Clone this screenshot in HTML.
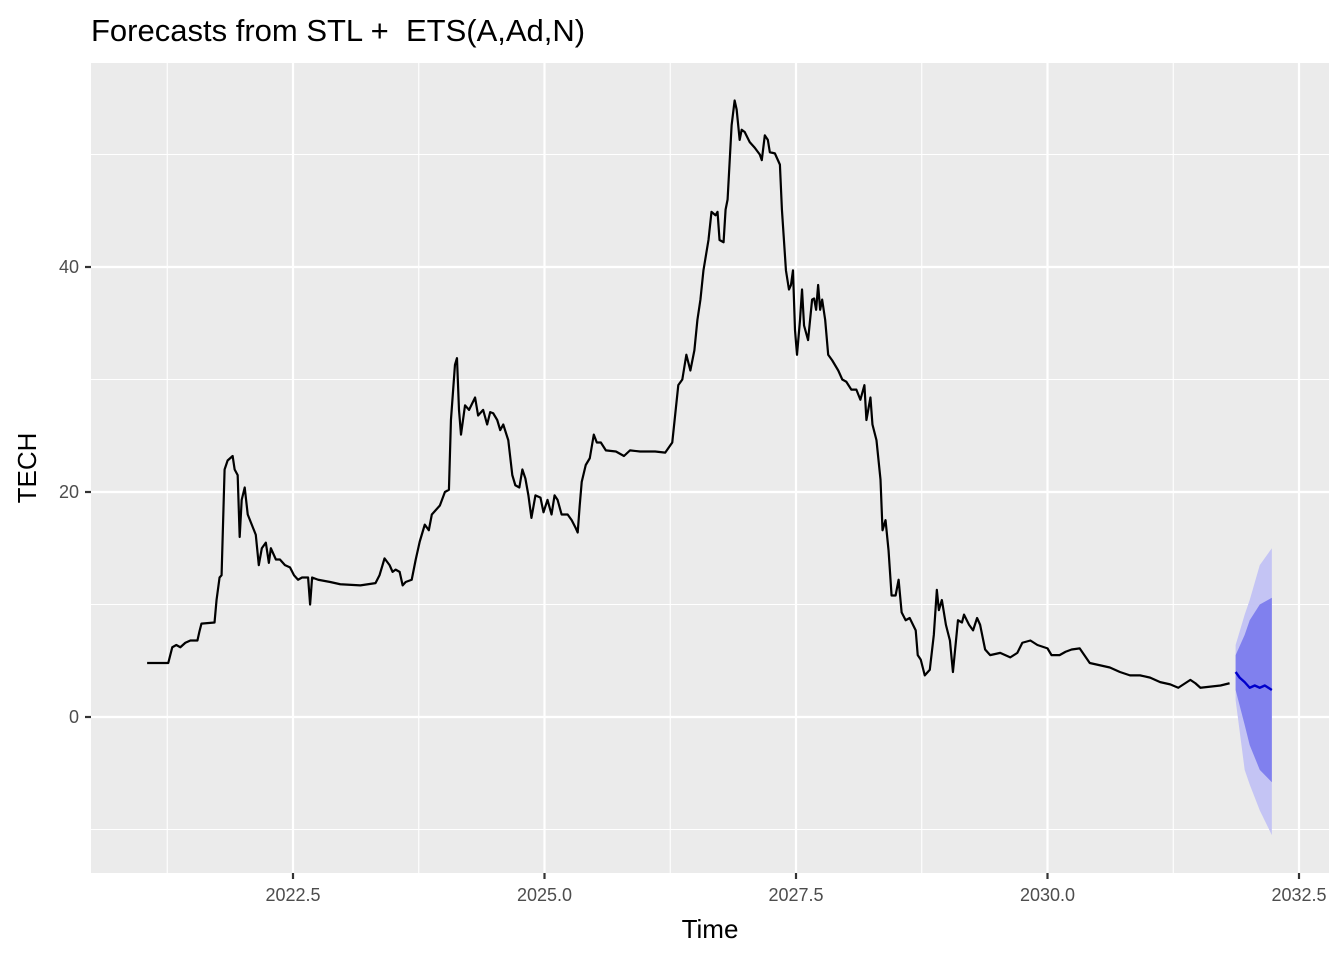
<!DOCTYPE html>
<html><head><meta charset="utf-8"><style>
body{margin:0;background:#fff;}
svg{display:block;font-family:"Liberation Sans",sans-serif;}
</style></head><body>
<svg id="chart" width="1344" height="960" viewBox="0 0 1344 960" xmlns="http://www.w3.org/2000/svg">
<text x="91" y="41" font-size="31" fill="#000">Forecasts from STL +&#160; ETS(A,Ad,N)</text>
<rect x="91" y="63" width="1238" height="810" fill="#ebebeb"/>
<g id="grid"></g>
<g id="bands"></g>
<g id="lines"></g>
<g id="axes"></g>
<text x="710" y="938" font-size="26" text-anchor="middle" fill="#000">Time</text>
<text transform="translate(36,468) rotate(-90)" font-size="26" text-anchor="middle" fill="#000">TECH</text>
</svg>
<script>
const times=[1.05,1.26,1.28,1.30,1.34,1.38,1.43,1.48,1.55,1.57,1.59,1.72,1.74,1.77,1.79,1.82,1.85,1.90,1.92,1.95,1.97,1.99,2.02,2.05,2.09,2.13,2.16,2.19,2.23,2.26,2.28,2.33,2.37,2.42,2.47,2.51,2.55,2.59,2.65,2.67,2.69,2.75,2.87,2.97,3.17,3.32,3.36,3.41,3.46,3.49,3.52,3.56,3.59,3.62,3.68,3.72,3.76,3.81,3.85,3.88,3.92,3.96,4.01,4.05,4.07,4.11,4.13,4.15,4.17,4.21,4.25,4.31,4.34,4.39,4.43,4.46,4.49,4.53,4.56,4.59,4.64,4.68,4.71,4.75,4.78,4.81,4.84,4.87,4.91,4.96,4.99,5.03,5.07,5.10,5.13,5.17,5.23,5.27,5.31,5.33,5.35,5.37,5.41,5.45,5.49,5.52,5.56,5.61,5.71,5.79,5.85,5.95,6.10,6.20,6.27,6.33,6.37,6.41,6.45,6.49,6.52,6.55,6.58,6.63,6.66,6.70,6.72,6.74,6.78,6.80,6.82,6.86,6.89,6.91,6.94,6.96,6.99,7.04,7.09,7.14,7.16,7.19,7.22,7.24,7.29,7.34,7.36,7.40,7.43,7.45,7.47,7.49,7.51,7.54,7.56,7.58,7.62,7.66,7.68,7.70,7.72,7.74,7.76,7.79,7.82,7.86,7.92,7.96,8.00,8.05,8.10,8.14,8.18,8.20,8.24,8.26,8.30,8.34,8.36,8.39,8.42,8.45,8.49,8.52,8.55,8.59,8.63,8.69,8.71,8.74,8.78,8.83,8.87,8.90,8.92,8.95,8.99,9.03,9.06,9.11,9.15,9.17,9.22,9.26,9.30,9.33,9.38,9.43,9.53,9.63,9.70,9.75,9.83,9.90,10.00,10.04,10.12,10.18,10.24,10.32,10.42,10.52,10.62,10.72,10.82,10.92,11.02,11.12,11.22,11.30,11.42,11.47,11.52,11.62,11.72,11.81];
const values=[4.8,4.8,5.5,6.2,6.4,6.2,6.6,6.8,6.8,7.6,8.3,8.4,10.4,12.4,12.6,22.0,22.8,23.2,22.0,21.5,16.0,19.3,20.4,18.0,17.1,16.2,13.5,15.0,15.5,13.7,15.0,14.0,14.0,13.5,13.3,12.6,12.2,12.4,12.4,10.0,12.4,12.2,12.0,11.8,11.7,11.9,12.6,14.1,13.5,12.9,13.1,12.9,11.7,12.0,12.2,14.0,15.6,17.1,16.6,18.0,18.4,18.8,20.0,20.2,26.4,31.3,31.9,27.3,25.1,27.7,27.3,28.4,26.8,27.3,26.0,27.1,27.0,26.4,25.5,26.0,24.6,21.5,20.6,20.4,22.0,21.2,19.7,17.7,19.7,19.5,18.2,19.3,18.0,19.7,19.3,18.0,18.0,17.5,16.8,16.4,18.8,20.9,22.4,23.0,25.1,24.4,24.4,23.7,23.6,23.2,23.7,23.6,23.6,23.5,24.4,29.5,30.0,32.2,30.8,32.6,35.3,37.1,39.7,42.4,44.9,44.6,44.9,42.4,42.2,45.1,46.0,52.6,54.8,54.0,51.3,52.2,52.0,51.1,50.6,50.0,49.5,51.7,51.3,50.2,50.1,49.1,45.1,39.7,38.0,38.4,39.7,34.4,32.2,35.3,38.0,34.8,33.5,37.1,37.2,36.2,38.4,36.2,37.1,35.3,32.2,31.7,30.8,30.0,29.8,29.1,29.1,28.2,29.5,26.4,28.4,26.0,24.6,21.1,16.6,17.5,14.8,10.8,10.8,12.2,9.3,8.6,8.8,7.7,5.5,5.1,3.7,4.2,7.3,11.3,9.5,10.4,8.2,6.8,4.0,8.6,8.4,9.1,8.2,7.7,8.8,8.2,6.0,5.5,5.7,5.3,5.7,6.6,6.8,6.4,6.1,5.5,5.5,5.8,6.0,6.1,4.8,4.6,4.4,4.0,3.7,3.7,3.5,3.1,2.9,2.6,3.3,3.0,2.6,2.7,2.8,3.0];
const fcTimes=[11.87,11.91,11.96,12.01,12.06,12.11,12.16,12.23];
const fcMean=[4.0,3.5,3.1,2.6,2.8,2.6,2.8,2.4];
const bandTimes=[11.87,11.96,12.01,12.11,12.23];
const hi80=[5.5,7.3,8.6,10.0,10.6];
const lo80=[2.4,-0.7,-2.5,-4.7,-5.8];
const hi95=[6.4,9.1,10.4,13.5,15.0];
const lo95=[1.5,-4.7,-6.0,-8.3,-10.5];
const xTicks=[2022.5,2025.0,2027.5,2030.0,2032.5];
const xTickLabels=["2022.5","2025.0","2027.5","2030.0","2032.5"];
const yTicks=[0,20,40];
const yTickLabels=["0","20","40"];
const xMinor=[2021.25,2023.75,2026.25,2028.75,2031.25];
const yMinor=[-10,10,30,50];

const X=t=>293+(t-2022.5)*100.6;
const XT=o=>X(2020+o);
const Y=v=>717-v*11.25;
const NS="http://www.w3.org/2000/svg";
function mk(tag,parent,attrs){const e=document.createElementNS(NS,tag);for(const k in attrs)e.setAttribute(k,attrs[k]);parent.appendChild(e);return e;}
const grid=document.getElementById('grid'),bands=document.getElementById('bands'),lines=document.getElementById('lines'),axes=document.getElementById('axes');
xMinor.forEach(t=>{const l=mk('line',grid,{x1:X(t),x2:X(t),y1:63,y2:873,stroke:'#fff','stroke-width':1.1});});
yMinor.forEach(v=>{const l=mk('line',grid,{x1:91,x2:1329,y1:Y(v),y2:Y(v),stroke:'#fff','stroke-width':1.1});});
xTicks.forEach((t,i)=>{const l=mk('line',grid,{x1:X(t),x2:X(t),y1:63,y2:873,stroke:'#fff','stroke-width':2.2});
const k=mk('line',axes,{x1:X(t),x2:X(t),y1:873,y2:879,stroke:'#333','stroke-width':2.2});
const tx=mk('text',axes,{x:X(t),y:901,'font-size':18,'text-anchor':'middle',fill:'#4d4d4d'});tx.textContent=xTickLabels[i];});
yTicks.forEach((v,i)=>{const l=mk('line',grid,{x1:91,x2:1329,y1:Y(v),y2:Y(v),stroke:'#fff','stroke-width':2.2});
const k=mk('line',axes,{x1:85,x2:91,y1:Y(v),y2:Y(v),stroke:'#333','stroke-width':2.2});
const tx=mk('text',axes,{x:79,y:Y(v)+6,'font-size':18,'text-anchor':'end',fill:'#4d4d4d'});tx.textContent=yTickLabels[i];});
function band(hi,lo,fill,name){let p=bandTimes.map((t,i)=>XT(t)+','+Y(hi[i]));for(let i=bandTimes.length-1;i>=0;i--)p.push(XT(bandTimes[i])+','+Y(lo[i]));
const e=mk('polygon',bands,{points:p.join(' '),fill:fill});}
band(hi95,lo95,'#c4c4f4','band-95');
band(hi80,lo80,'#8080ee','band-80');
const s=mk('polyline',lines,{points:times.map((t,i)=>XT(t)+','+Y(values[i])).join(' '),fill:'none',stroke:'#000','stroke-width':2.2,'stroke-linejoin':'round'});

const f=mk('polyline',lines,{points:fcTimes.map((t,i)=>XT(t)+','+Y(fcMean[i])).join(' '),fill:'none',stroke:'#0000cc','stroke-width':2.4,'stroke-linejoin':'round'});

</script>
</body></html>
